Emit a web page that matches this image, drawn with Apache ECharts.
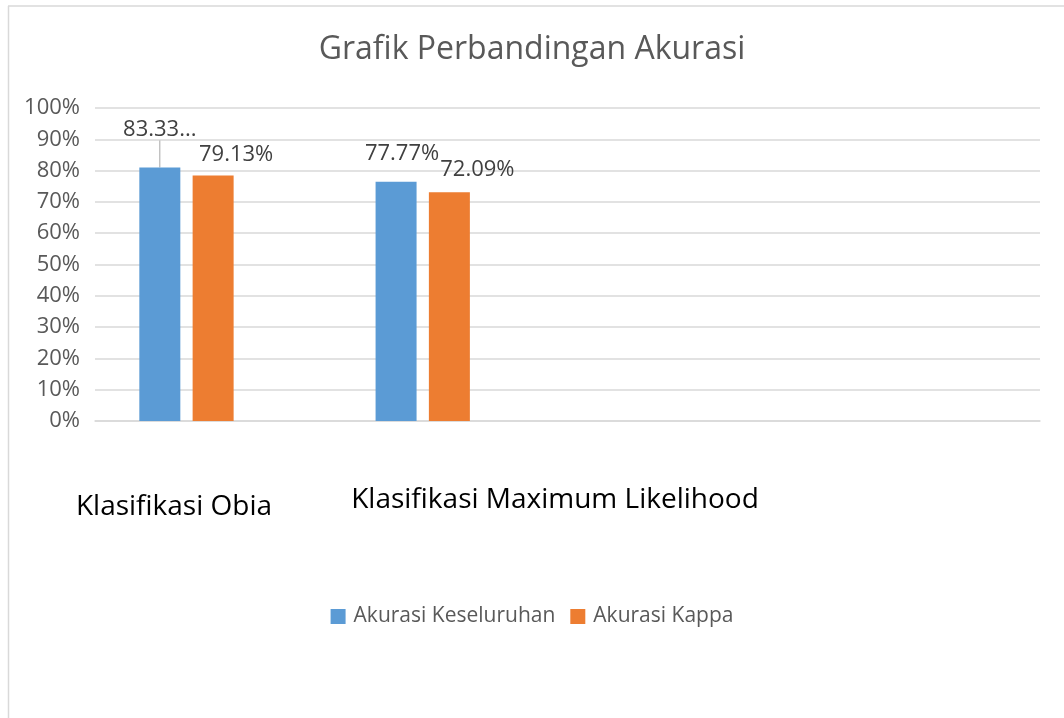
<!DOCTYPE html>
<html>
<head>
<meta charset="utf-8">
<script src="https://cdn.jsdelivr.net/npm/echarts@6/dist/echarts.min.js"></script>
<style>
  html, body { margin: 0; padding: 0; background: #fff; }
  #chart { width: 1064px; height: 718px; }
</style>
</head>
<body>
<div id="chart"></div>
<script>
// ---- Data ----
const categories = ['Klasifikasi Obia', 'Klasifikasi Maximum Likelihood', '', ''];
const seriesNames = ['Akurasi Keseluruhan', 'Akurasi Kappa'];
const akurasiKeseluruhan = [81.0, 76.4, null, null];
const akurasiKappa = [78.4, 73.1, null, null];
const labelsKeseluruhan = ['83.33...', '77.77%'];
const labelsKappa = ['79.13%', '72.09%'];
const emptySeries = [null, null, null, null];

// ---- Styling / layout (not data) ----
const FONT = '"Open Sans", "Noto Sans", sans-serif';
const labelShift = [
  [[0, -22], [6, -12]],
  [[23, -5], [28, -6]]
];

const chart = echarts.init(document.getElementById('chart'), null, { renderer: 'canvas' });

function makeData(values, withLeader) {
  return values.map((v, i) => {
    if (v === null) return null;
    const item = { value: v };
    if (withLeader && i === 0) item.labelLine = { show: true, lineStyle: { color: '#a6a6a6', width: 1 } };
    return item;
  });
}

const labelBase = {
  show: true,
  position: 'top',
  distance: 5,
  color: '#404040',
  fontFamily: FONT,
  fontSize: 22
};

const option = {
  backgroundColor: '#ffffff',
  animation: false,
  title: {
    text: 'Grafik Perbandingan Akurasi',
    left: 'center',
    top: 29,
    textStyle: { color: '#595959', fontFamily: FONT, fontSize: 32, fontWeight: 'normal' }
  },
  legend: {
    data: seriesNames,
    bottom: 86,
    left: 'center',
    icon: 'rect',
    itemWidth: 15,
    itemHeight: 15,
    itemGap: 15,
    textStyle: { color: '#595959', fontFamily: FONT, fontSize: 21, padding: [0, 0, 0, 3] }
  },
  grid: { left: 95, right: 24, top: 108, bottom: 297, containLabel: false },
  xAxis: {
    type: 'category',
    data: categories,
    axisLine: { show: true, lineStyle: { color: '#d9d9d9', width: 1.5 } },
    axisTick: { show: false },
    axisLabel: { show: false },
    splitLine: { show: false }
  },
  yAxis: {
    type: 'value',
    min: 0,
    max: 100,
    interval: 10,
    axisLine: { show: false },
    axisTick: { show: false },
    axisLabel: { formatter: '{value}%', color: '#595959', fontFamily: FONT, fontSize: 22, margin: 15 },
    splitLine: { lineStyle: { color: '#d9d9d9', width: 1.5 } }
  },
  series: [
    {
      name: seriesNames[0],
      type: 'bar',
      barWidth: 41,
      barGap: '30%',
      itemStyle: { color: '#5B9BD5' },
      data: makeData(akurasiKeseluruhan, true),
      label: Object.assign({}, labelBase, { formatter: p => labelsKeseluruhan[p.dataIndex] }),
      labelLayout: p => ({ dx: labelShift[0][p.dataIndex][0], dy: labelShift[0][p.dataIndex][1] }),
      labelLine: { show: false }
    },
    {
      name: seriesNames[1],
      type: 'bar',
      barWidth: 41,
      barGap: '30%',
      itemStyle: { color: '#ED7D31' },
      data: makeData(akurasiKappa, false),
      label: Object.assign({}, labelBase, { formatter: p => labelsKappa[p.dataIndex] }),
      labelLayout: p => ({ dx: labelShift[1][p.dataIndex][0], dy: labelShift[1][p.dataIndex][1] })
    },
    {
      name: '',
      type: 'bar',
      barWidth: 41,
      barGap: '30%',
      itemStyle: { color: '#A5A5A5' },
      data: emptySeries
    }
  ],
  graphic: [
    { type: 'line', shape: { x1: 8.5, y1: 6, x2: 8.5, y2: 718 }, style: { stroke: '#d9d9d9', lineWidth: 1.5 }, silent: true },
    { type: 'line', shape: { x1: 8, y1: 6, x2: 1064, y2: 6 }, style: { stroke: '#d9d9d9', lineWidth: 1.5 }, silent: true },
    { type: 'text', x: 174, y: 507, style: { text: categories[0], fill: '#000', font: '28px ' + FONT, align: 'center', verticalAlign: 'middle' } },
    { type: 'text', x: 555, y: 500, style: { text: categories[1], fill: '#000', font: '28px ' + FONT, align: 'center', verticalAlign: 'middle' } }
  ]
};

chart.setOption(option);
</script>
</body>
</html>
